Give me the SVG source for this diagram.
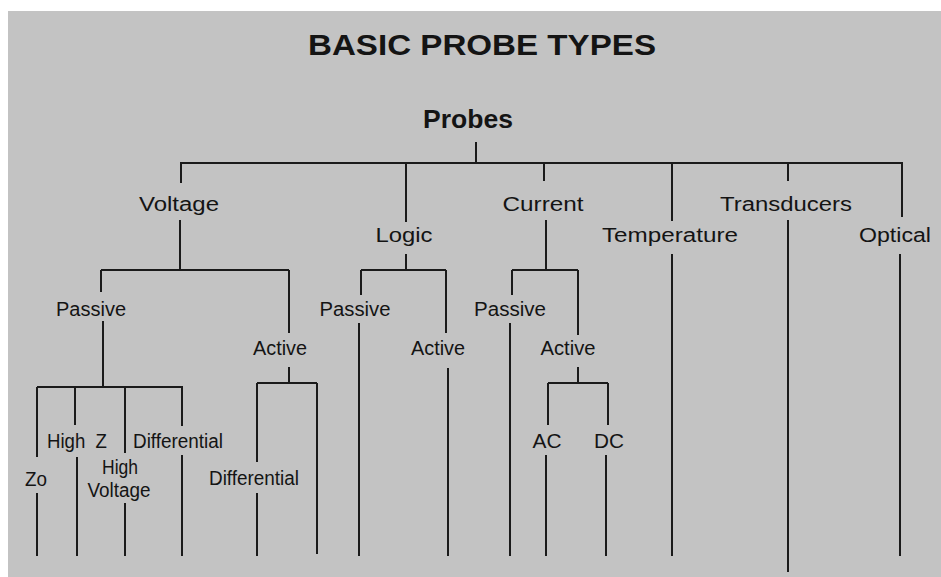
<svg xmlns="http://www.w3.org/2000/svg" width="941" height="577" viewBox="0 0 941 577">
  <style>
    .bg { fill: #c3c3c3; }
    .lbl { font-family: "Liberation Sans", Arial, sans-serif; font-size: 20px; fill: #141414; text-anchor: middle; }
    .title { font-family: "Liberation Sans", Arial, sans-serif; font-weight: bold; fill: #141414; text-anchor: middle; }
    #connectors path { fill: none; stroke: #1a1a1a; stroke-width: 2; }
  </style>
  <rect width="941" height="577" fill="#ffffff"/>
  <rect class="bg" x="8" y="11" width="933" height="566"/>

  <g id="heading">
    <text class="title" x="482" y="55" font-size="29" textLength="348" lengthAdjust="spacingAndGlyphs">BASIC PROBE TYPES</text>
  </g>

  <g id="connectors">
    <!-- root to first level -->
    <path d="M476,142 V163 M180,163 H903 M181,163 V183 M406,163 V222 M544,163 V181 M672,163 V221 M788,163 V181 M902,163 V217"/>
    <!-- voltage -->
    <path d="M180,220 V270 M101,270 H289 M101,270 V292 M289,270 V333"/>
    <path d="M103,321 V387 M37,387 H183 M37,387 V457 M75,387 V425 M125,387 V453 M182,387 V426"/>
    <path d="M37,493 V556 M77,457 V556 M125,503 V556 M182,455 V556"/>
    <path d="M289,367 V383 M257,383 H317 M257,383 V462 M257,493 V556 M317,383 V554"/>
    <!-- logic -->
    <path d="M406,254 V270 M361,270 H446 M361,270 V295 M446,270 V333 M359,323 V556 M448,368 V556"/>
    <!-- current -->
    <path d="M546,220 V270 M512,270 H578 M512,270 V295 M578,270 V335 M510,323 V556"/>
    <path d="M578,367 V383 M548,383 H608 M548,383 V425 M608,383 V425 M546,455 V556 M606,455 V556"/>
    <!-- temperature, transducers, optical -->
    <path d="M672,254 V556 M788,220 V572 M900,254 V556"/>
  </g>

  <g id="probes"><text class="title" x="468" y="128" font-size="25" textLength="90" lengthAdjust="spacingAndGlyphs">Probes</text></g>

  <g id="voltage"><text class="lbl" x="179" y="211" textLength="80" lengthAdjust="spacingAndGlyphs">Voltage</text></g>
  <g id="logic"><text class="lbl" x="404" y="242" textLength="57" lengthAdjust="spacingAndGlyphs">Logic</text></g>
  <g id="current"><text class="lbl" x="543" y="211" textLength="81" lengthAdjust="spacingAndGlyphs">Current</text></g>
  <g id="temperature"><text class="lbl" x="670" y="242" textLength="136" lengthAdjust="spacingAndGlyphs">Temperature</text></g>
  <g id="transducers"><text class="lbl" x="786" y="211" textLength="132" lengthAdjust="spacingAndGlyphs">Transducers</text></g>
  <g id="optical"><text class="lbl" x="895" y="242" textLength="72" lengthAdjust="spacingAndGlyphs">Optical</text></g>

  <g id="voltage-passive"><text class="lbl" x="91" y="316" textLength="70" lengthAdjust="spacingAndGlyphs">Passive</text></g>
  <g id="voltage-active"><text class="lbl" x="280" y="355" textLength="54" lengthAdjust="spacingAndGlyphs">Active</text></g>
  <g id="logic-passive"><text class="lbl" x="355" y="316" textLength="71" lengthAdjust="spacingAndGlyphs">Passive</text></g>
  <g id="logic-active"><text class="lbl" x="438" y="355" textLength="54" lengthAdjust="spacingAndGlyphs">Active</text></g>
  <g id="current-passive"><text class="lbl" x="510" y="316" textLength="72" lengthAdjust="spacingAndGlyphs">Passive</text></g>
  <g id="current-active"><text class="lbl" x="568" y="355" textLength="55" lengthAdjust="spacingAndGlyphs">Active</text></g>

  <g id="zo"><text class="lbl" x="36" y="486" textLength="22" lengthAdjust="spacingAndGlyphs">Zo</text></g>
  <g id="high-z"><text class="lbl" x="77" y="448" textLength="60" lengthAdjust="spacingAndGlyphs" xml:space="preserve">High  Z</text></g>
  <g id="high-voltage">
    <text class="lbl" x="120" y="474" textLength="36" lengthAdjust="spacingAndGlyphs">High</text>
    <text class="lbl" x="119" y="497" textLength="63" lengthAdjust="spacingAndGlyphs">Voltage</text>
  </g>
  <g id="passive-differential"><text class="lbl" x="178" y="448" textLength="90" lengthAdjust="spacingAndGlyphs">Differential</text></g>
  <g id="active-differential"><text class="lbl" x="254" y="485" textLength="90" lengthAdjust="spacingAndGlyphs">Differential</text></g>
  <g id="ac"><text class="lbl" x="547" y="448" textLength="29" lengthAdjust="spacingAndGlyphs">AC</text></g>
  <g id="dc"><text class="lbl" x="609" y="448" textLength="30" lengthAdjust="spacingAndGlyphs">DC</text></g>
</svg>
